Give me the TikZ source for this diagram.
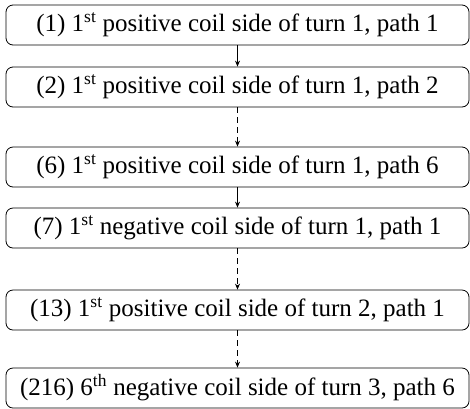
\documentclass[tikz,border=0pt]{standalone}
\usepackage[no-math]{fontspec}
\usepackage{amsmath}
\setmainfont{Liberation Serif}
\usetikzlibrary{arrows.meta}
\tikzset{
  stepbox/.style={draw, rounded corners=7pt, line width=0.8pt, minimum width=463pt, minimum height=40pt, inner sep=0pt, font=\fontsize{25}{29}\selectfont},
  conn/.style={line width=0.8pt, -{Stealth[length=6pt,width=5pt]}},
  dconn/.style={conn, dash pattern=on 6pt off 4pt}
}
\begin{document}
\begin{tikzpicture}[x=1pt,y=1pt]
\useasboundingbox (0,0) rectangle (470,-408);
\node[stepbox] (n1) at (237.5,-25) {(1) 1$^{\text{st}}$ positive coil side of turn 1, path 1};
\node[stepbox] (n2) at (237.5,-87) {(2) 1$^{\text{st}}$ positive coil side of turn 1, path 2};
\node[stepbox] (n6) at (237.5,-167) {(6) 1$^{\text{st}}$ positive coil side of turn 1, path 6};
\node[stepbox] (n7) at (237.5,-228) {(7) 1$^{\text{st}}$ negative coil side of turn 1, path 1};
\node[stepbox] (n13) at (237.5,-310) {(13) 1$^{\text{st}}$ positive coil side of turn 2, path 1};
\node[stepbox] (n216) at (237.5,-388) {(216) 6$^{\text{th}}$ negative coil side of turn 3, path 6};
\draw[conn] (n1) -- (n2);
\draw[dconn] (n2) -- (n6);
\draw[conn] (n6) -- (n7);
\draw[dconn] (n7) -- (n13);
\draw[dconn] (n13) -- (n216);
\end{tikzpicture}
\end{document}
